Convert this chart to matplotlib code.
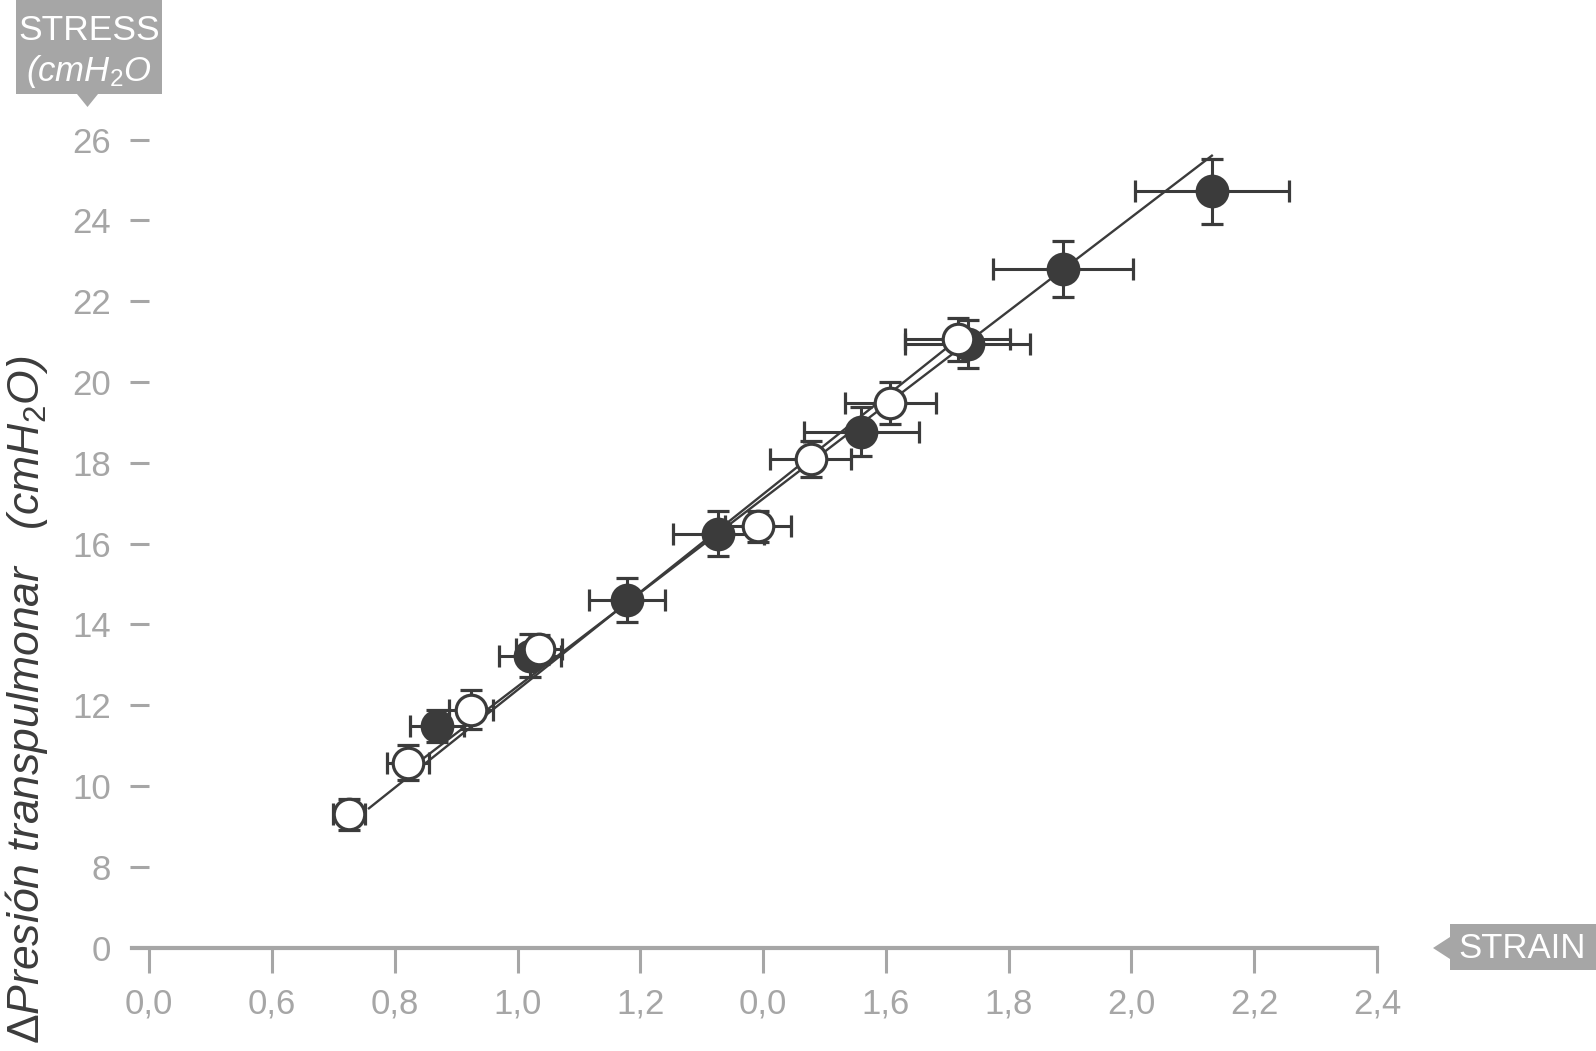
"""Stress-strain chart: transpulmonary pressure vs strain, two groups with error bars."""

import matplotlib

matplotlib.use("Agg")
import matplotlib.pyplot as plt  # noqa: E402
from matplotlib.patches import Polygon, Rectangle  # noqa: E402

plt.rcParams["font.family"] = ["Liberation Sans", "DejaVu Sans"]
plt.rcParams["mathtext.fontset"] = "custom"
plt.rcParams["mathtext.rm"] = "Liberation Sans"
plt.rcParams["mathtext.it"] = "Liberation Sans:italic"

# Filled group (strain, stress) with error bars.
filled_x = [0.869, 1.020, 1.179, 1.327, 1.560, 1.733, 1.889, 2.131]
filled_y = [11.49, 13.23, 14.61, 16.25, 18.77, 20.94, 22.80, 24.72]
filled_xerr = [0.044, 0.050, 0.062, 0.074, 0.094, 0.102, 0.114, 0.126]
filled_yerr = [0.40, 0.54, 0.54, 0.55, 0.60, 0.60, 0.70, 0.81]

# Open group.
open_x = [0.725, 0.821, 0.924, 1.035, 1.392, 1.478, 1.607, 1.717]
open_y = [9.30, 10.58, 11.89, 13.38, 16.43, 18.09, 19.48, 21.06]
open_xerr = [0.026, 0.034, 0.036, 0.038, 0.054, 0.066, 0.074, 0.086]
open_yerr = [0.39, 0.43, 0.49, 0.37, 0.38, 0.45, 0.53, 0.53]

# Regression lines (end points).
fit_filled_x = [0.836, 2.131]
fit_filled_y = [10.56, 25.60]
fit_open_x = [0.758, 1.717]
fit_open_y = [9.45, 21.06]

# Axis ticks (labels copied as printed, with axis breaks).
xtick_pos = [0.4, 0.6, 0.8, 1.0, 1.2, 1.4, 1.6, 1.8, 2.0, 2.2, 2.4]
xtick_labels = ["0,0", "0,6", "0,8", "1,0", "1,2", "0,0", "1,6", "1,8", "2,0", "2,2", "2,4"]
ytick_pos = [6, 8, 10, 12, 14, 16, 18, 20, 22, 24, 26]
ytick_labels = ["0", "8", "10", "12", "14", "16", "18", "20", "22", "24", "26"]

W, H = 1596, 1051
DARK = "#3b3b3b"
GREY = "#a6a6a6"

fig = plt.figure(figsize=(W / 100, H / 100), dpi=100)
ax = fig.add_axes([132 / W, 1 - 947.7 / H, (1377 - 132) / W, (947.7 - 58.7) / H])
ax.set_xlim(0.372, 2.4)
ax.set_ylim(6, 28)

ax.plot(fit_filled_x, fit_filled_y, color=DARK, lw=1.7, zorder=2)
ax.plot(fit_open_x, fit_open_y, color=DARK, lw=1.7, zorder=2)

common = dict(fmt="o", ms=22, mew=2.3, ecolor=DARK, elinewidth=2.2,
              capsize=8, capthick=2.2, clip_on=False)
ax.errorbar(filled_x, filled_y, xerr=filled_xerr, yerr=filled_yerr,
            mfc=DARK, mec=DARK, zorder=3, **common)
ax.errorbar(open_x, open_y, xerr=open_xerr, yerr=open_yerr,
            mfc="white", mec=DARK, zorder=4, **common)

# Axes styling.
for side in ("top", "right", "left"):
    ax.spines[side].set_visible(False)
ax.spines["left"].set_position(("data", 0.4))
ax.spines["bottom"].set_color(GREY)
ax.spines["bottom"].set_linewidth(3)

ax.set_xticks(xtick_pos)
ax.set_xticklabels(xtick_labels)
ax.set_yticks(ytick_pos)
ax.set_yticklabels(ytick_labels)
ax.tick_params(axis="x", direction="out", length=18, width=2.2, color=GREY,
               labelcolor=GREY, labelsize=25, pad=11)
ax.tick_params(axis="y", direction="out", length=13.5, width=2.2, color=GREY,
               labelcolor=GREY, labelsize=25, pad=14)
ax.yaxis.get_major_ticks()[0].tick1line.set_visible(False)

# Rotated y label.
fig.text(27 / W, 1 - 700 / H, r"$\Delta$Presión transpulmonar   (cmH$_2$O)",
         rotation=90, ha="center", va="center", fontsize=32, style="italic",
         color="#3c3c3c")

# STRESS tag (top left) with downward pointer.
fig.patches.append(Rectangle((16 / W, 1 - 94 / H), 146 / W, 94 / H,
                             transform=fig.transFigure, color=GREY, lw=0))
fig.patches.append(Polygon([(77 / W, 1 - 94 / H), (98 / W, 1 - 94 / H), (87.5 / W, 1 - 107 / H)],
                           closed=True, transform=fig.transFigure, color=GREY, lw=0))
fig.text(89 / W, 1 - 30 / H, "STRESS", ha="center", va="center",
         fontsize=25.5, color="white")
fig.text(89 / W, 1 - 71 / H, "(cmH$_2$O", ha="center", va="center",
         fontsize=25, style="italic", color="white")

# STRAIN tag (right) with left pointer.
fig.patches.append(Rectangle((1450 / W, 1 - 970 / H), 146 / W, 46 / H,
                             transform=fig.transFigure, color=GREY, lw=0))
fig.patches.append(Polygon([(1450 / W, 1 - 937 / H), (1450 / W, 1 - 959 / H), (1433 / W, 1 - 948 / H)],
                           closed=True, transform=fig.transFigure, color=GREY, lw=0))
fig.text(1522 / W, 1 - 948 / H, "STRAIN", ha="center", va="center",
         fontsize=25, color="white")

fig.savefig("out.png", dpi=100)
plt.close(fig)
